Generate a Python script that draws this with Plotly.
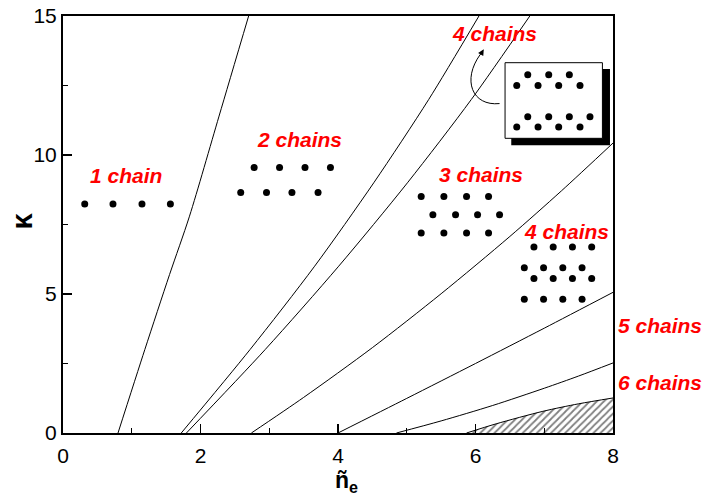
import plotly.graph_objects as go

# ---- boundary curves (x = n_e, y = kappa) ----
b12_x = [0.80, 1.19, 1.55, 1.84, 2.27, 2.70]
b12_y = [0.0, 3.0, 5.7, 7.8, 11.4, 15.0]

b23a_x = [1.72, 2.72, 3.66, 4.52, 5.32, 6.05]
b23a_y = [0.0, 3.0, 6.0, 9.0, 12.0, 15.0]

b23b_x = [1.795, 2.94, 4.01, 5.01, 5.94, 6.79]
b23b_y = [0.0, 3.0, 6.0, 9.0, 12.0, 15.0]

b34_x = [2.74, 3.50, 4.50, 5.50, 6.50, 7.25, 8.00]
b34_y = [0.0, 1.28, 3.07, 5.01, 7.07, 8.71, 10.43]

b45_x = [4.00, 5.00, 6.00, 7.00, 8.00]
b45_y = [0.0, 1.245, 2.50, 3.77, 5.06]

b56_x = [4.85, 5.50, 6.25, 7.00, 7.50, 8.00]
b56_y = [0.0, 0.435, 0.99, 1.61, 2.05, 2.52]

b67_x = [5.87, 6.30, 6.98, 7.50, 8.00]
b67_y = [0.0, 0.33, 0.78, 1.05, 1.26]

# ---- chain illustrations (dots) ----
one_x = [0.316, 0.727, 1.149, 1.562]
one_y = [8.24, 8.24, 8.24, 8.24]

two_x = [2.78, 3.15, 3.52, 3.89, 2.585, 2.96, 3.33, 3.71]
two_y = [9.55, 9.55, 9.55, 9.55, 8.65, 8.65, 8.65, 8.65]

three_x = [5.21, 5.54, 5.87, 6.19, 5.38, 5.71, 6.03, 6.35, 5.21, 5.54, 5.87, 6.19]
three_y = [8.51] * 4 + [7.85] * 4 + [7.19] * 4

four_x = [6.85, 7.13, 7.41, 7.69, 6.71, 6.99, 7.27, 7.55,
          6.85, 7.13, 7.41, 7.69, 6.71, 6.99, 7.27, 7.55]
four_y = [6.69] * 4 + [5.94] * 4 + [5.56] * 4 + [4.81] * 4

inset_x = [6.76, 7.065, 7.365, 6.60, 6.91, 7.21, 7.52,
           6.76, 7.065, 7.365, 7.665, 6.60, 6.91, 7.21, 7.52]
inset_y = [12.89] * 3 + [12.50] * 4 + [11.38] * 4 + [11.01] * 4

# ---- labels ----
inside_text = ["1 chain", "2 chains", "3 chains", "4 chains", "4 chains"]
inside_x = [0.92, 3.445, 6.076, 7.33, 6.27]
inside_y = [9.27, 10.55, 9.29, 7.25, 14.36]

outside_text = ["5 chains", "6 chains"]
outside_x = [1.085, 1.085]      # paper coords (right of plot)
outside_y = [0.258, 0.122]

x_ticks = [0, 2, 4, 6, 8]
y_ticks = [0, 5, 10, 15]

FONT = "Arial, Liberation Sans, sans-serif"
RED = "#ff0000"

fig = go.Figure()

line_style = dict(color="black", width=1)
for xs, ys in [(b12_x, b12_y), (b23a_x, b23a_y), (b23b_x, b23b_y),
               (b34_x, b34_y), (b45_x, b45_y), (b56_x, b56_y)]:
    fig.add_trace(go.Scatter(x=xs, y=ys, mode="lines",
                             line=dict(shape="spline", smoothing=0.8, **line_style),
                             showlegend=False, hoverinfo="skip"))

fig.add_trace(go.Scatter(x=b67_x, y=b67_y, mode="lines", fill="tozeroy",
                         fillcolor="white",
                         fillpattern=dict(shape="/", fgcolor="black", bgcolor="white", size=5, solidity=0.35),
                         line=dict(shape="spline", smoothing=0.8, **line_style),
                         showlegend=False, hoverinfo="skip"))

for xs, ys in [(one_x, one_y), (two_x, two_y), (three_x, three_y), (four_x, four_y), (inset_x, inset_y)]:
    fig.add_trace(go.Scatter(x=xs, y=ys, mode="markers", marker=dict(color="black", size=7),
                             showlegend=False, hoverinfo="skip", cliponaxis=False))

# inset box with shadow
fig.add_shape(type="rect", xref="x", yref="y", x0=6.52, x1=7.956, y0=10.35, y1=13.09,
              fillcolor="black", line=dict(color="black", width=0), layer="below")
fig.add_shape(type="rect", xref="x", yref="y", x0=6.43, x1=7.846, y0=10.60, y1=13.32,
              fillcolor="white", line=dict(color="black", width=1), layer="below")

# curved arrow
fig.add_shape(type="path", xref="x", yref="y",
              path="M 6.35 11.85 C 5.95 11.75, 5.80 12.70, 6.07 13.62",
              line=dict(color="black", width=1))
fig.add_annotation(x=6.12, y=13.80, ax=6.06, ay=13.55, xref="x", yref="y", axref="x", ayref="y",
                   text="", showarrow=True, arrowhead=2, arrowsize=1.2, arrowwidth=1, arrowcolor="black")

for t, lx, ly in zip(inside_text, inside_x, inside_y):
    fig.add_annotation(x=lx, y=ly, xref="x", yref="y", text=f"<b><i>{t}</i></b>", showarrow=False,
                       xanchor="center", yanchor="middle",
                       font=dict(family=FONT, size=21, color=RED))
for t, lx, ly in zip(outside_text, outside_x, outside_y):
    fig.add_annotation(x=lx, y=ly, xref="paper", yref="paper", text=f"<b><i>{t}</i></b>", showarrow=False,
                       xanchor="center", yanchor="middle",
                       font=dict(family=FONT, size=21, color=RED))

# axis titles
fig.add_annotation(x=0, y=0.507, xref="paper", yref="paper", xshift=-41, text="<b>κ</b>",
                   xanchor="center", yanchor="middle",
                   textangle=-90, showarrow=False, font=dict(family=FONT, size=29, color="black"))
fig.add_annotation(x=0.515, y=0, xref="paper", yref="paper", yshift=-32, yanchor="top", xanchor="center",
                   text="<b>ñ<sub>e</sub></b>", showarrow=False, font=dict(family=FONT, size=23, color="black"))

common = dict(ticks="inside", ticklen=9, tickwidth=1.5, tickcolor="black",
              showline=True, linecolor="black", linewidth=2, mirror=True, showgrid=False, zeroline=False,
              automargin=False, ticklabeloverflow="allow",
              tickfont=dict(family=FONT, size=21, color="black"))
fig.update_xaxes(range=[0, 8], tickvals=x_ticks, ticklabelstandoff=3,
                 minor=dict(dtick=1, tick0=0, ticks="inside", ticklen=5, tickcolor="black", tickwidth=1.2),
                 **common)
fig.update_yaxes(range=[0, 15], tickvals=y_ticks, ticklabelstandoff=0,
                 minor=dict(dtick=2.5, tick0=0, ticks="inside", ticklen=5, tickcolor="black", tickwidth=1.2),
                 **common)

fig.update_layout(width=702, height=499, margin=dict(l=63, r=89, t=16, b=66, autoexpand=False),
                  plot_bgcolor="white", paper_bgcolor="white", showlegend=False, hovermode=False)

fig.write_html("out.html", config={"displayModeBar": False, "staticPlot": True},
               post_script="document.body.style.margin='0';document.body.style.overflow='hidden';")
